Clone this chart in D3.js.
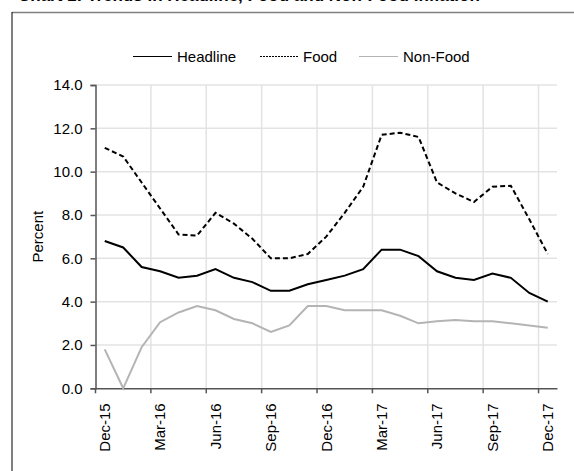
<!DOCTYPE html>
<html><head><meta charset="utf-8">
<script src="https://cdn.jsdelivr.net/npm/d3@7"></script>
<style>
html,body{margin:0;padding:0;background:#fff;}
svg{display:block;font-family:Arial,"Liberation Sans",sans-serif;}
</style></head>
<body>
<svg id="c" width="574" height="471"></svg>
<script>
const categories = ["Dec-15","Jan-16","Feb-16","Mar-16","Apr-16","May-16","Jun-16","Jul-16","Aug-16","Sep-16","Oct-16","Nov-16","Dec-16","Jan-17","Feb-17","Mar-17","Apr-17","May-17","Jun-17","Jul-17","Aug-17","Sep-17","Oct-17","Nov-17","Dec-17"];
const headline = [6.8,6.5,5.6,5.4,5.1,5.2,5.5,5.1,4.9,4.5,4.5,4.8,5.0,5.2,5.5,6.4,6.4,6.1,5.4,5.1,5.0,5.3,5.1,4.4,4.0];
const food     = [11.1,10.7,9.5,8.3,7.1,7.05,8.1,7.6,6.9,6.0,6.0,6.2,7.0,8.1,9.3,11.7,11.8,11.6,9.5,9.0,8.6,9.3,9.35,7.8,6.2];
const nonFood  = [1.8,0.0,1.9,3.05,3.5,3.8,3.6,3.2,3.0,2.6,2.9,3.8,3.8,3.6,3.6,3.6,3.35,3.0,3.1,3.15,3.1,3.1,3.0,2.9,2.8];
const yTicks = [0,2,4,6,8,10,12,14];
const seriesNames = ["Headline","Food","Non-Food"];
const titleText = "Chart 1: Trends in Headline, Food and Non-Food Inflation";

const svg = d3.select("#c");
const L = 95.5, R = 557, T = 85, B = 388.3;

// outer frame
svg.append("line").attr("x1",12).attr("x2",574).attr("y1",12.5).attr("y2",12.5).attr("stroke","#808080").attr("stroke-width",1.5);
svg.append("line").attr("x1",12).attr("x2",12).attr("y1",12).attr("y2",471).attr("stroke","#000").attr("stroke-width",1);

// clipped title (only its bottom is visible)
svg.append("text").attr("x",18).attr("y",0.5).attr("font-weight","bold").attr("font-size",17).attr("fill","#000").text(titleText);

const x = d3.scaleBand().domain(categories).range([L,R]).paddingInner(0).paddingOuter(0);
const y = d3.scaleLinear().domain([0,14]).range([B,T]);
const cx = c => x(c) + x.bandwidth()/2;

const tickCats = categories.filter((c,i)=>i%3===0);

// gridlines
const g = svg.append("g");
g.selectAll("line.h").data(yTicks.filter(v=>v>0)).join("line")
  .attr("x1",L).attr("x2",R).attr("y1",d=>y(d)).attr("y2",d=>y(d))
  .attr("stroke","#e3e3e3").attr("stroke-width",1.5);
g.selectAll("line.v").data(tickCats.slice(1)).join("line")
  .attr("x1",d=>x(d)).attr("x2",d=>x(d)).attr("y1",T).attr("y2",B)
  .attr("stroke","#e3e3e3").attr("stroke-width",1.5);

// y axis
const yAxis = svg.append("g").attr("transform",`translate(${L},0)`)
  .call(d3.axisLeft(y).tickValues(yTicks).tickFormat(d3.format(".1f")).tickSize(5).tickPadding(8));
yAxis.select(".domain").attr("stroke","#555").attr("stroke-width",1.5);
yAxis.selectAll(".tick line").attr("stroke","#555").attr("stroke-width",1.5);
yAxis.selectAll("text").attr("font-size",15).attr("fill","#000").attr("font-family","Arial, 'Liberation Sans', sans-serif");

// x axis
const xAxis = svg.append("g").attr("transform",`translate(0,${B})`)
  .call(d3.axisBottom(x).tickValues(tickCats).tickSize(0).tickPadding(0));
xAxis.select(".domain").attr("stroke","#555").attr("stroke-width",1.5);
xAxis.selectAll(".tick text")
  .attr("font-size",15).attr("fill","#000").attr("font-family","Arial, 'Liberation Sans', sans-serif")
  .attr("transform","rotate(-90)").attr("text-anchor","end")
  .attr("x",-15).attr("y",0).attr("dy","0.35em");
svg.append("g").selectAll("line").data(tickCats).join("line")
  .attr("x1",d=>x(d)).attr("x2",d=>x(d)).attr("y1",B).attr("y2",B+5)
  .attr("stroke","#555").attr("stroke-width",1.5);

// y label
svg.append("text").attr("transform",`translate(43,${(T+B)/2}) rotate(-90)`)
  .attr("text-anchor","middle").attr("font-size",15).attr("fill","#000").text("Percent");

// lines
const line = d3.line().x((d,i)=>cx(categories[i])).y(d=>y(d));
svg.append("path").datum(nonFood).attr("d",line).attr("fill","none").attr("stroke","#b4b4b4").attr("stroke-width",2);
svg.append("path").datum(headline).attr("d",line).attr("fill","none").attr("stroke","#000").attr("stroke-width",2);
svg.append("path").datum(food).attr("d",line).attr("fill","none").attr("stroke","#000").attr("stroke-width",2).attr("stroke-dasharray","5,3");

// legend
const legend = [
  {name:seriesNames[0], x1:133, x2:172, tx:177, stroke:"#000", dash:null},
  {name:seriesNames[1], x1:260, x2:298, tx:303, stroke:"#000", dash:"2,1"},
  {name:seriesNames[2], x1:359, x2:398, tx:403, stroke:"#b4b4b4", dash:null}
];
const lg = svg.append("g");
legend.forEach(d=>{
  lg.append("line").attr("x1",d.x1).attr("x2",d.x2).attr("y1",56.5).attr("y2",56.5)
    .attr("stroke",d.stroke).attr("stroke-width",1.2).attr("stroke-dasharray",d.dash);
  lg.append("text").attr("x",d.tx).attr("y",56.5).attr("dy","0.35em").attr("font-size",15).attr("fill","#000").text(d.name);
});
</script>
</body></html>
